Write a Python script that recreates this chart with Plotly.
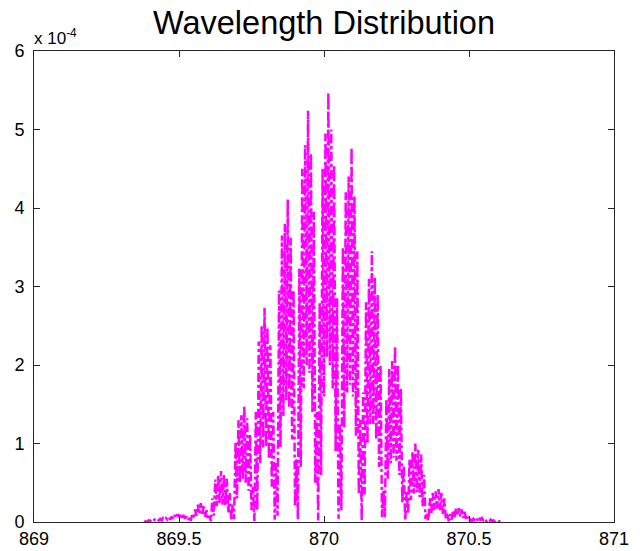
import numpy as np
import plotly.graph_objects as go

# ---- data ----
wl_start = 869.380          # first sample wavelength
wl_step = 0.005             # sampling step of the recorded spectrum

# intensity in units of 1e-4, one value per sample
intensity_e4 = [
    0.00, 0.01, 0.00, 0.02, 0.01, 0.03, 0.01, 0.03, 0.02, 0.04,
    0.02, 0.04, 0.02, 0.05, 0.03, 0.05, 0.03, 0.06, 0.03, 0.07,
    0.04, 0.09, 0.05, 0.10, 0.06, 0.11, 0.05, 0.09, 0.04, 0.07,
    0.02, 0.05, 0.01, 0.09, 0.04, 0.16, 0.08, 0.22, 0.10, 0.24,
    0.09, 0.20, 0.06, 0.15, 0.03, 0.08, 0.01,
    0.30, 0.08, 0.54, 0.20, 0.60, 0.24, 0.65, 0.22, 0.60, 0.20, 0.55, 0.12, 0.37, 0.02,
    0.22, 0.04, 1.02, 0.30, 1.30, 0.50, 1.36, 0.55, 1.48, 0.50, 1.32, 0.40, 1.12, 0.15, 0.45, 0.01,
    1.40, 0.15, 2.30, 0.75, 2.50, 0.95, 2.73, 0.95, 2.48, 0.80, 2.25, 0.45, 1.40, 0.03,
    0.75, 0.08, 2.95, 0.95, 3.65, 1.35, 3.80, 1.55, 4.11, 1.45, 3.62, 1.05, 2.95, 0.20, 0.80,
    0.03, 3.23, 0.70, 4.50, 1.70, 4.80, 2.00, 5.24, 1.90, 4.70, 1.40, 3.95, 0.50, 1.40,
    0.02, 2.80, 0.60, 4.50, 1.60, 4.95, 2.10, 5.47, 2.00, 5.00, 1.70, 4.55, 0.90, 2.85, 0.04,
    1.25, 0.15, 3.50, 1.20, 4.20, 1.65, 4.40, 1.75, 4.77, 1.60, 4.15, 1.10, 3.45, 0.35, 1.30,
    0.02, 1.65, 0.35, 2.80, 1.00, 3.10, 1.25, 3.45, 1.25, 3.12, 1.05, 2.90, 0.70, 2.00, 0.06,
    0.40, 0.06, 1.57, 0.55, 1.95, 0.75, 2.05, 0.82, 2.24, 0.78, 2.00, 0.60, 1.70, 0.25, 0.72,
    0.02, 0.40, 0.10, 0.80, 0.28, 0.90, 0.36, 1.00, 0.38, 0.92, 0.32, 0.86, 0.20, 0.60, 0.04,
    0.10, 0.02, 0.30, 0.10, 0.37, 0.15, 0.39, 0.17, 0.42, 0.15, 0.37, 0.10, 0.30, 0.04, 0.12,
    0.01, 0.10, 0.03, 0.15, 0.06, 0.17, 0.08, 0.18, 0.07, 0.16, 0.05, 0.13, 0.03, 0.07, 0.01,
    0.03, 0.01, 0.04, 0.02, 0.05, 0.02, 0.06, 0.02, 0.05, 0.02, 0.04, 0.01, 0.03, 0.01, 0.03,
    0.01, 0.02, 0.00, 0.02, 0.00, 0.01, 0.00,
]

x_tick_values = [869, 869.5, 870, 870.5, 871]
x_tick_labels = ["869", "869.5", "870", "870.5", "871"]
y_tick_values_e4 = [0, 1, 2, 3, 4, 5, 6]
y_tick_labels = ["0", "1", "2", "3", "4", "5", "6"]

title_text = "Wavelength Distribution"
exponent_text = "x 10<sup>-4</sup>"

# ---- build ----
wavelength = np.round(wl_start + wl_step * np.arange(len(intensity_e4)), 3)
intensity = np.array(intensity_e4) * 1e-4

FONT = "Liberation Sans, Arial, Helvetica, sans-serif"
AXIS_COLOR = "#262626"

fig = go.Figure(
    go.Scatter(
        x=wavelength,
        y=intensity,
        mode="lines",
        line=dict(color="#FF00FF", width=2.5, dash="dashdot"),
        hoverinfo="skip",
    )
)

axis_common = dict(
    showline=True,
    linecolor=AXIS_COLOR,
    linewidth=1,
    mirror="ticks",
    ticks="inside",
    ticklen=6,
    tickwidth=1,
    tickcolor=AXIS_COLOR,
    showgrid=False,
    zeroline=False,
    automargin=False,
    tickfont=dict(family=FONT, size=18, color="black"),
)

fig.update_xaxes(
    range=[x_tick_values[0], x_tick_values[-1]],
    tickmode="array",
    tickvals=x_tick_values,
    ticktext=x_tick_labels,
    ticklabelstandoff=0,
    **axis_common,
)
fig.update_yaxes(
    range=[0, y_tick_values_e4[-1] * 1e-4],
    tickmode="array",
    tickvals=[v * 1e-4 for v in y_tick_values_e4],
    ticktext=y_tick_labels,
    ticklabelstandoff=5,
    **axis_common,
)

fig.update_layout(
    width=640,
    height=551,
    margin=dict(l=34, r=26, t=51, b=29),
    paper_bgcolor="white",
    plot_bgcolor="white",
    showlegend=False,
    font=dict(family=FONT, color="black"),
    title=dict(
        text=title_text,
        font=dict(family=FONT, size=32.5, color="black"),
        x=0.5,
        xref="paper",
        xanchor="center",
        y=1 - 23 / 551,
        yref="container",
        yanchor="middle",
    ),
    annotations=[
        dict(
            text=exponent_text,
            x=0,
            y=1,
            xref="paper",
            yref="paper",
            xanchor="left",
            yanchor="bottom",
            showarrow=False,
            font=dict(family=FONT, size=17, color="black"),
            xshift=-2,
            yshift=1,
        )
    ],
)

fig.write_html("out.html")
